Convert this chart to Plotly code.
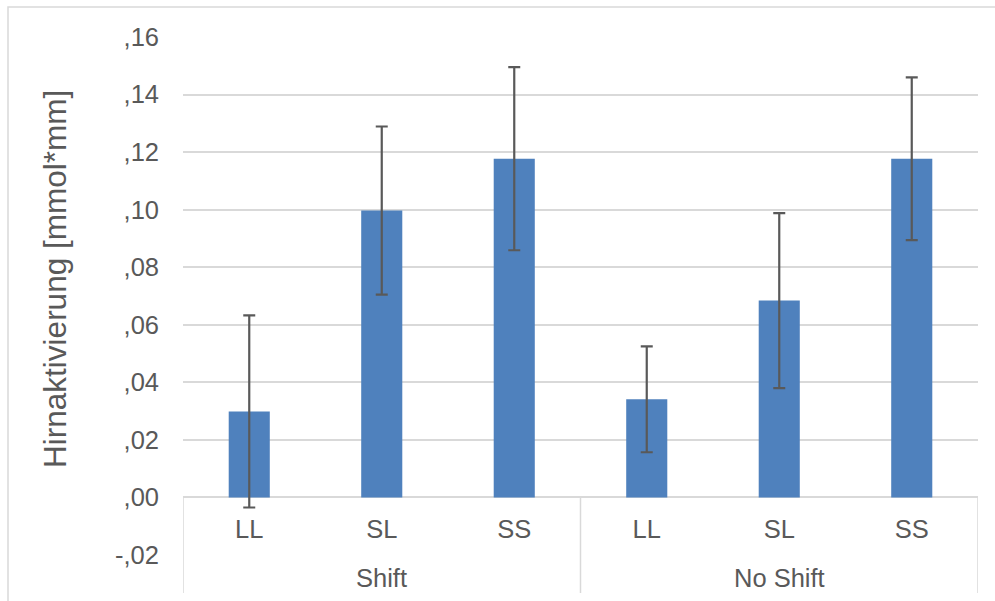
import plotly.graph_objects as go

# ---- data ----
groups = ["Shift", "Shift", "Shift", "No Shift", "No Shift", "No Shift"]
conditions = ["LL", "SL", "SS", "LL", "SL", "SS"]
means = [0.0299, 0.0997, 0.1177, 0.0341, 0.0684, 0.1177]
errors = [0.0334, 0.0292, 0.0318, 0.0184, 0.0304, 0.0283]
group_names = ["Shift", "No Shift"]
y_tick_values = [-0.02, 0.0, 0.02, 0.04, 0.06, 0.08, 0.10, 0.12, 0.14, 0.16]
y_tick_labels = ["-,02", ",00", ",02", ",04", ",06", ",08", ",10", ",12", ",14", ",16"]
y_title = "Hirnaktivierung [mmol*mm]"

FONT = "Liberation Sans, Arial, sans-serif"
TXT = "#595959"
GRID = "#D9D9D9"

x_pos = [i + 0.5 for i in range(len(conditions))]
y_min, y_max = y_tick_values[0], y_tick_values[-1]
zero_frac = (0 - y_min) / (y_max - y_min)

fig = go.Figure()
fig.add_trace(go.Bar(
    x=x_pos, y=means, width=0.31,
    marker=dict(color="#4F81BD", line=dict(width=0)),
    error_y=dict(type="data", array=errors, visible=True,
                 color=TXT, thickness=2.2, width=6),
    hoverinfo="x+y",
))

shapes = []
# group dividers below the zero line
n_per_group = 3
for b in range(0, len(conditions) + 1, n_per_group):
    shapes.append(dict(type="line", xref="x", yref="paper",
                       x0=b, x1=b, y0=zero_frac, y1=-0.0734,
                       line=dict(color=GRID, width=1.5)))
# outer chart frame
shapes.append(dict(type="rect", xref="paper", yref="paper",
                   x0=(8 - 183) / 795, x1=1.2, y0=-0.5, y1=(555 - 7) / 518,
                   line=dict(color=GRID, width=1.5), fillcolor="rgba(0,0,0,0)", layer="below"))

annotations = []
for gi, g in enumerate(group_names):
    annotations.append(dict(x=gi * n_per_group + n_per_group / 2, xref="x",
                            y=-0.045, yref="paper", text=g, showarrow=False,
                            xanchor="center", yanchor="middle",
                            font=dict(family=FONT, size=25.5, color=TXT)))
annotations.append(dict(x=(55 - 183) / 795, xref="paper", y=0.533, yref="paper",
                        text=y_title, textangle=-90, showarrow=False,
                        xanchor="center", yanchor="middle",
                        font=dict(family=FONT, size=31.5, color=TXT)))

fig.update_layout(
    width=995, height=601,
    margin=dict(l=183, r=17, t=37, b=46),
    paper_bgcolor="white", plot_bgcolor="white",
    showlegend=False,
    font=dict(family=FONT, size=25.5, color=TXT),
    xaxis=dict(range=[0, len(conditions)], tickmode="array", tickvals=x_pos,
               ticktext=conditions, showgrid=False, zeroline=False, showline=False,
               ticks="", anchor="free", position=zero_frac, ticklabelstandoff=14,
               tickfont=dict(family=FONT, size=25.5, color=TXT), fixedrange=True),
    yaxis=dict(range=[y_min, y_max], tickmode="array", tickvals=y_tick_values,
               ticktext=y_tick_labels, showgrid=True, gridcolor=GRID, gridwidth=1.5,
               zeroline=False, showline=False, ticks="", ticklabelstandoff=23,
               tickfont=dict(family=FONT, size=25.5, color=TXT), domain=[0, 1]),
    shapes=shapes, annotations=annotations,
)

fig.write_html("out.html", config={"displayModeBar": False},
               post_script="document.body.style.margin='0px';document.body.style.overflow='hidden';")
